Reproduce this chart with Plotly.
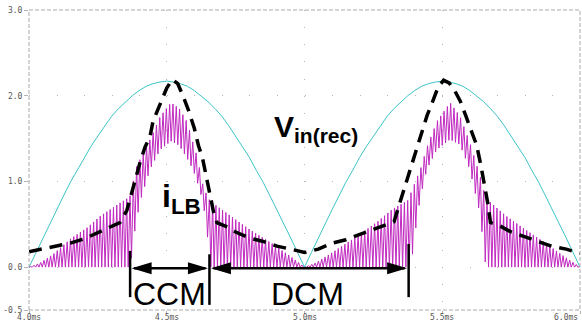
import numpy as np
import plotly.graph_objects as go

# ---------------------------------------------------------------------------
# Data (time in ms)
# ---------------------------------------------------------------------------
# Rectified input voltage, sampled every 25 us
t_vin = [round(4.0 + 0.025 * k, 3) for k in range(81)]
vin_rec = [0.00, 0.17, 0.34, 0.51, 0.67, 0.83, 0.99, 1.13, 1.28, 1.41, 1.53,
           1.65, 1.76, 1.85, 1.93, 2.00, 2.06, 2.11, 2.14, 2.16, 2.17,
           2.16, 2.14, 2.11, 2.06, 2.00, 1.93, 1.85, 1.76, 1.65, 1.53,
           1.41, 1.28, 1.13, 0.99, 0.83, 0.67, 0.51, 0.34, 0.17, 0.00,
           0.17, 0.34, 0.51, 0.67, 0.83, 0.99, 1.13, 1.28, 1.41, 1.53,
           1.65, 1.76, 1.85, 1.93, 2.00, 2.06, 2.11, 2.14, 2.16, 2.17,
           2.16, 2.14, 2.11, 2.06, 2.00, 1.93, 1.85, 1.76, 1.65, 1.53,
           1.41, 1.28, 1.13, 0.99, 0.83, 0.67, 0.51, 0.34, 0.17, 0.00]

# Averaged (low-pass) boost inductor current
t_avg = [4.000, 4.050, 4.100, 4.150, 4.200, 4.250, 4.300, 4.330, 4.355, 4.375,
         4.403, 4.421, 4.439, 4.450, 4.468, 4.483, 4.500, 4.520, 4.540, 4.560,
         4.580, 4.600, 4.615, 4.630, 4.645, 4.657, 4.670, 4.682, 4.720, 4.750,
         4.800, 4.850, 4.900, 4.950, 5.000,
         5.050, 5.100, 5.150, 5.200, 5.250, 5.300, 5.325, 5.345, 5.365, 5.385,
         5.405, 5.425, 5.445, 5.465, 5.485, 5.505, 5.525, 5.545, 5.565, 5.585,
         5.605, 5.625, 5.640, 5.655, 5.665, 5.675, 5.710, 5.750, 5.800, 5.850,
         5.900, 5.950, 6.000]
i_avg = [0.18, 0.21, 0.245, 0.28, 0.33, 0.40, 0.48, 0.52, 0.66, 0.90,
         1.22, 1.40, 1.52, 1.70, 1.84, 1.95, 2.09, 2.19, 2.14, 1.99,
         1.82, 1.62, 1.42, 1.27, 1.02, 0.83, 0.64, 0.52, 0.47, 0.41,
         0.34, 0.30, 0.245, 0.21, 0.17,
         0.21, 0.28, 0.32, 0.38, 0.45, 0.51, 0.53, 0.74, 0.95, 1.16,
         1.38, 1.56, 1.77, 1.93, 2.10, 2.18, 2.15, 2.06, 1.94, 1.77,
         1.60, 1.42, 1.19, 0.95, 0.75, 0.52, 0.48, 0.41, 0.35, 0.30,
         0.24, 0.21, 0.16]

# Switching inductor current: per-cycle peak and valley envelopes
t_env = [4.000, 4.040, 4.087, 4.150, 4.210, 4.260, 4.330, 4.365, 4.375, 4.385,
         4.403, 4.439, 4.476, 4.515, 4.545, 4.574, 4.595, 4.610, 4.632, 4.648,
         4.657, 4.730, 4.800, 4.875, 4.947, 5.000,
         5.040, 5.090, 5.176, 5.260, 5.320, 5.375, 5.390, 5.408, 5.420, 5.444,
         5.480, 5.528, 5.564, 5.600, 5.637, 5.656, 5.662, 5.730, 5.800, 5.870,
         5.940, 6.000]
ilb_peak = [0.00, 0.05, 0.15, 0.33, 0.46, 0.60, 0.75, 0.82, 0.95, 1.14,
            1.26, 1.49, 1.76, 1.92, 1.85, 1.69, 1.45, 1.29, 0.94, 0.82,
            0.77, 0.60, 0.44, 0.29, 0.13, 0.00,
            0.05, 0.15, 0.33, 0.52, 0.68, 0.78, 0.90, 1.05, 1.14, 1.40,
            1.70, 1.92, 1.76, 1.45, 1.06, 0.82, 0.79, 0.60, 0.44, 0.29,
            0.13, 0.00]
ilb_valley = [0.00, 0.00, 0.00, 0.00, 0.00, 0.00, 0.00, 0.00, 0.15, 0.45,
              0.76, 1.14, 1.37, 1.47, 1.42, 1.27, 1.14, 1.00, 0.76, 0.35,
              0.00, 0.00, 0.00, 0.00, 0.00, 0.00,
              0.00, 0.00, 0.00, 0.00, 0.00, 0.00, 0.10, 0.56, 0.80, 1.14,
              1.37, 1.49, 1.43, 1.14, 0.62, 0.06, 0.00, 0.00, 0.00, 0.00,
              0.00, 0.00]
T_SW = 0.012  # switching period, ms

# Mode boundaries marked under the first line half-cycle (ms)
t_ccm_start, t_ccm_end, t_dcm_end = 4.367, 4.655, 5.378

x_ticks = [4.0, 4.5, 5.0, 5.5, 6.0]
x_ticktext = ["4.0ms", "4.5ms", "5.0ms", "5.5ms", "6.0ms"]
y_ticks = [-0.5, 0.0, 1.0, 2.0, 3.0]
y_ticktext = ["-0.5", "0.0", "1.0", "2.0", "3.0"]

X_RANGE = [4.0, 6.0]
Y_RANGE = [-0.5, 3.0]

# ---------------------------------------------------------------------------
# Build the switching waveform from the envelopes
# ---------------------------------------------------------------------------
n_cyc = int(round((X_RANGE[1] - X_RANGE[0]) / T_SW))
ts, ys = [], []
for k in range(n_cyc):
    t0 = X_RANGE[0] + k * T_SW
    v0 = float(np.interp(t0, t_env, ilb_valley))
    pk = float(np.interp(t0 + 0.5 * T_SW, t_env, ilb_peak))
    v1 = float(np.interp(t0 + T_SW, t_env, ilb_valley))
    if v0 <= 0 and v1 <= 0:
        # discontinuous conduction: ramp up, ramp down, rest at zero
        ts += [t0, t0 + 0.55 * T_SW, t0 + 0.85 * T_SW]
        ys += [0.0, pk, 0.0]
    else:
        ts += [t0, t0 + 0.55 * T_SW]
        ys += [v0, pk]
ts.append(X_RANGE[1])
ys.append(0.0)

W, H = 582, 322
ML, MR, MT, MB = 29, 2, 10, 12
PW, PH = W - ML - MR, H - MT - MB
DX = (X_RANGE[1] - X_RANGE[0]) / PW   # ms per pixel
DY = (Y_RANGE[1] - Y_RANGE[0]) / PH   # units per pixel

fig = go.Figure()
fig.add_trace(go.Scatter(x=ts, y=ys, mode="lines",
                         line=dict(color="#c028c0", width=1), hoverinfo="skip"))
fig.add_trace(go.Scatter(x=t_vin, y=vin_rec, mode="lines",
                         line=dict(color="#3cc4c8", width=1), hoverinfo="skip"))
fig.add_trace(go.Scatter(x=t_avg, y=i_avg, mode="lines",
                         line=dict(color="black", width=3.5, dash="13px,8px"),
                         hoverinfo="skip"))

grid_col = "#b4b4b4"
fig.update_xaxes(range=X_RANGE, tickvals=x_ticks, showticklabels=False,
                 ticks="outside", ticklen=3, tickcolor=grid_col,
                 showgrid=True, gridcolor=grid_col, gridwidth=1,
                 griddash="1px,%.3fpx" % (0.2 / DY - 1),
                 zeroline=False, showline=False)
fig.update_yaxes(range=Y_RANGE, tickvals=y_ticks, ticktext=y_ticktext,
                 ticks="outside", ticklen=4, tickcolor=grid_col,
                 tickfont=dict(family="DejaVu Sans Mono", size=8, color="#555555"),
                 showgrid=True, gridcolor=grid_col, gridwidth=1,
                 griddash="1px,%.3fpx" % (0.1 / DX - 1),
                 zeroline=False, showline=False)

shapes = [dict(type="rect", xref="paper", yref="paper", x0=0, y0=0, x1=1, y1=1,
               line=dict(color="#aaaaaa", width=1, dash="4px,2px"))]

# Mode arrows
y_arr = -0.012
ah_len, ah_half = 20 * DX, 6 * DY


def arrow_head(tip, direction):
    base = tip - direction * ah_len
    return dict(type="path", line=dict(width=0), fillcolor="black",
                path="M %f %f L %f %f L %f %f Z" % (tip, y_arr, base, y_arr + ah_half,
                                                   base, y_arr - ah_half))


for a, b in [(t_ccm_start, t_ccm_end), (t_ccm_end, t_dcm_end)]:
    shapes.append(dict(type="line", x0=a + 4 * DX, x1=b - 4 * DX, y0=y_arr, y1=y_arr,
                       line=dict(color="black", width=2.5)))
    shapes.append(arrow_head(a + 1.5 * DX, -1))
    shapes.append(arrow_head(b - 1.5 * DX, 1))

for t, ytop, ybot in [(t_ccm_start, 0.19, -0.35), (t_ccm_end, 0.15, -0.44),
                      (t_dcm_end, 0.27, -0.35)]:
    shapes.append(dict(type="line", x0=t, x1=t, y0=ybot, y1=ytop,
                       line=dict(color="black", width=2.5)))

label_font = dict(family="Liberation Sans, Arial", color="black")
annotations = [
    dict(x=4.882, y=1.615, xanchor="left", yanchor="middle", showarrow=False,
         text="<b>V</b><sub><b>in(rec)</b></sub>", font=dict(size=30, **label_font)),
    dict(x=4.477, y=0.80, xanchor="left", yanchor="middle", showarrow=False,
         text="<b>i</b><sub><b>LB</b></sub>", font=dict(size=32, **label_font)),
    dict(x=(t_ccm_start + t_ccm_end) / 2, y=-0.31, xanchor="center", yanchor="middle",
         showarrow=False, text="CCM", font=dict(size=32, **label_font)),
    dict(x=5.01, y=-0.31, xanchor="center", yanchor="middle",
         showarrow=False, text="DCM", font=dict(size=32, **label_font)),
]
for tv, tt in zip(x_ticks, x_ticktext):
    annotations.append(dict(x=tv, y=Y_RANGE[0], xref="x", yref="y",
                            xanchor="right" if tv == X_RANGE[1] else "center",
                            yanchor="top", yshift=-1, showarrow=False, text=tt,
                            font=dict(family="DejaVu Sans Mono", size=8, color="#555555")))

fig.update_layout(width=W, height=H, margin=dict(l=ML, r=MR, t=MT, b=MB),
                  paper_bgcolor="white", plot_bgcolor="white", showlegend=False,
                  shapes=shapes, annotations=annotations)

fig.write_html("out.html")
